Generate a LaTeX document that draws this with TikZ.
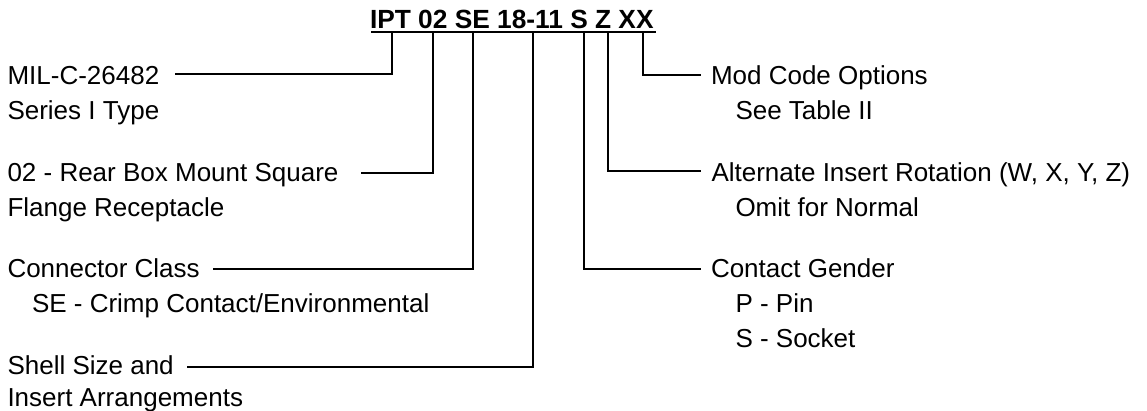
\documentclass[tikz,border=0pt]{standalone}
\usepackage{fontspec}
\setmainfont{Liberation Sans}
\begin{document}
\begin{tikzpicture}[x=1pt,y=-1pt,
  lbl/.style={anchor=base west,inner sep=0pt,outer sep=0pt,
    font=\fontsize{26}{34.5}\selectfont},
  ttl/.style={anchor=base west,inner sep=0pt,outer sep=0pt,
    font=\fontsize{26.3}{30}\selectfont\bfseries},
  conn/.style={line width=2pt,line cap=rect,line join=miter}]
\useasboundingbox (0,0) rectangle (1147,411);
% title
\node[ttl] (title) at (370,28.3) {IPT 02 SE 18-11 S Z XX};
\coordinate (ulL) at (371,31.7);
\coordinate (ulR) at (656,31.7);
\draw[line width=2pt] (ulL) -- (ulR);
% tick points under the code
\coordinate (tIPT) at (391.7,31.7);
\coordinate (tO2)  at (432.7,31.7);
\coordinate (tSE)  at (473.3,31.7);
\coordinate (tSz)  at (533.3,31.7);
\coordinate (tS)   at (583.5,31.7);
\coordinate (tZ)   at (608.3,31.7);
\coordinate (tXX)  at (643.3,31.7);
% left labels
\node[lbl] (mil)  at (7.5,85)       {MIL-C-26482};
\node[lbl] (mil2) at (7.5,119.5)    {Series I Type};
\node[lbl] (rbm)  at (7.5,181.7)    {02 - Rear Box Mount Square};
\node[lbl] (rbm2) at (7.5,216.2)    {Flange Receptacle};
\node[lbl] (cls)  at (7.5,278)      {Connector Class};
\node[lbl] (cls2) at (32,312.5)     {SE - Crimp Contact/Environmental};
\node[lbl] (shl)  at (7.5,374)      {Shell Size and};
\node[lbl] (shl2) at (7.5,406.5)    {Insert Arrangements};
% right labels
\node[lbl] (mod)  at (711,85)       {Mod Code Options};
\node[lbl] (mod2) at (735.5,119.5)  {See Table II};
\node[lbl] (alt)  at (711.5,181.7)  {Alternate Insert Rotation (W, X, Y, Z)};
\node[lbl] (alt2) at (735.5,216.2)  {Omit for Normal};
\node[lbl] (gen)  at (711,278)      {Contact Gender};
\node[lbl] (gen2) at (735.5,312.5)  {P - Pin};
\node[lbl] (gen3) at (735.5,347)    {S - Socket};
% connector ends
\coordinate (eMIL) at (176,74);
\coordinate (eRBM) at (361.7,173.3);
\coordinate (eCLS) at (214,269);
\coordinate (eSHL) at (188,366.7);
\coordinate (eMOD) at (700,75);
\coordinate (eALT) at (700,170.7);
\coordinate (eGEN) at (700,269);
% connectors
\draw[conn] (tIPT) |- (eMIL);
\draw[conn] (tO2)  |- (eRBM);
\draw[conn] (tSE)  |- (eCLS);
\draw[conn] (tSz)  |- (eSHL);
\draw[conn] (tXX)  |- (eMOD);
\draw[conn] (tZ)   |- (eALT);
\draw[conn] (tS)   |- (eGEN);
\end{tikzpicture}
\end{document}
